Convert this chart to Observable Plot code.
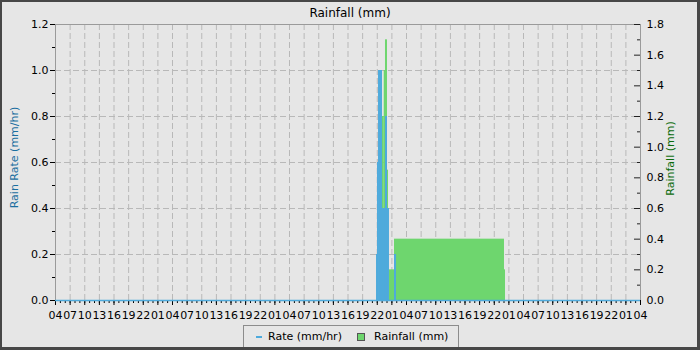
<!DOCTYPE html>
<html><head><meta charset="utf-8">
<script src="https://cdn.jsdelivr.net/npm/d3@7"></script>
<script src="https://cdn.jsdelivr.net/npm/@observablehq/plot@0.6"></script>
<style>
html,body{margin:0;padding:0;background:#e6e6e6;}
#wrap{position:relative;width:700px;height:350px;background:#e6e6e6;overflow:hidden;font-family:"DejaVu Sans",sans-serif;color:#000;}
#border{position:absolute;left:0;top:0;width:700px;height:350px;box-sizing:border-box;border:2px solid #474747;border-right-width:3px;border-bottom-width:3px;pointer-events:none;z-index:5;}
#title{position:absolute;left:0;top:5px;width:700px;text-align:center;font-size:12px;line-height:16px;}
#chart{position:absolute;left:0;top:20px;}
#legend{position:absolute;left:243px;top:325px;width:216px;height:30px;border:1px solid #8c8c8c;box-sizing:border-box;}
.lg{position:absolute;font-size:11px;line-height:14px;white-space:nowrap;}
</style>
</head><body>
<div id="wrap">
  <div id="title"></div>
  <div id="chart"></div>
  <div id="legend"></div>
  <div id="border"></div>
</div>
<script>
// time axis: hours since 04:00 of the first day (5 days shown)
const xTicks = d3.range(0, 121, 3);
const xMinor = d3.range(0, 121, 1);
const hourLabels = ["04","07","10","13","16","19","22","01"];

// left axis (rain rate) and right axis (rainfall)
const rateTicks = [0, 0.2, 0.4, 0.6, 0.8, 1.0, 1.2];
const rateMinor = [0.1, 0.3, 0.5, 0.7, 0.9, 1.1];
const rainTicks = [0, 0.2, 0.4, 0.6, 0.8, 1.0, 1.2, 1.4, 1.6, 1.8];
const rainMinor = [0.1, 0.3, 0.5, 0.7, 0.9, 1.1, 1.3, 1.5, 1.7];

// rain rate (mm/hr)
const rateStart = [65.85, 66.05, 66.26, 67.08, 67.69, 68.10, 69.54];
const rateEnd   = [66.05, 66.26, 67.08, 67.69, 68.10, 68.51, 69.95];
const rateValue = [0.2, 0.6, 1.0, 0.4, 0.8, 0.4, 0.2];

// rainfall (mm)
const rainStart = [67.08, 67.43, 67.69, 68.10, 68.51, 69.54, 92.10];
const rainEnd   = [67.43, 67.69, 68.10, 68.31, 69.54, 92.10, 92.31];
const rainValue = [1.2, 1.5, 1.7, 0.85, 0.2, 0.4, 0.2];

const titleText = "Rainfall (mm)";
const leftLabel = "Rain Rate (mm/hr)";
const rightLabel = "Rainfall (mm)";
const rateName = "Rate (mm/hr)";
const rainName = "Rainfall (mm)";

const blue = "#4eaadc";
const green = "#6ed66e";
const k = 1.2 / 1.8; // rainfall -> rate scale

const rate = rateStart.map((s, i) => ({start: s, end: rateEnd[i], value: rateValue[i]}));
const rain = rainStart.map((s, i) => ({start: s, end: rainEnd[i], value: rainValue[i] * k}));

const grid = {stroke: "#b8b8b8", strokeOpacity: 1, strokeDasharray: "6,3"};
const innerW = 700 - 55 - 60;

const chart = Plot.plot({
  width: 700, height: 300,
  marginLeft: 55, marginRight: 60, marginTop: 4, marginBottom: 20,
  style: {background: "transparent", fontFamily: "DejaVu Sans", fontSize: "11px", color: "#000", overflow: "visible"},
  x: {domain: [0, 120], axis: null},
  y: {domain: [0, 1.2], axis: null},
  marks: [
    Plot.gridX(xTicks.slice(1, -1), grid),
    Plot.gridY(rateTicks.slice(1, -1), grid),
    Plot.rect(rain, {x1: "start", x2: "end", y1: 0, y2: "value", fill: green}),
    Plot.rect(rate, {x1: "start", x2: "end", y1: 0, y2: "value", fill: blue}),
    Plot.frame({stroke: "#9a9a9a"}),
    Plot.axisX(xTicks, {tickSize: 5, tickPadding: 6, tickFormat: h => hourLabels[Math.round(h / 3) % 8], label: null, fontSize: 11}),
    Plot.axisX(xMinor, {tickSize: 3, tickFormat: () => "", label: null}),
    Plot.axisY(rateTicks, {tickSize: 5, tickPadding: 2, tickFormat: d => d.toFixed(1), label: null, fontSize: 11}),
    Plot.axisY(rateMinor, {tickSize: 3, tickFormat: () => "", label: null}),
    Plot.axisY(rainTicks.map(t => t * k), {anchor: "right", tickSize: 0, tickPadding: 6, tickFormat: d => (d / k).toFixed(1), label: null, fontSize: 11}),
    Plot.tickY(rainTicks.map(t => t * k), {y: d => d, insetLeft: innerW - 6, stroke: "#222"}),
    Plot.tickY(rainMinor.map(t => t * k), {y: d => d, insetLeft: innerW - 3, stroke: "#222"}),
    Plot.ruleY([0], {stroke: blue, strokeWidth: 1.5}),
    Plot.text([leftLabel], {text: d => d, frameAnchor: "left", textAnchor: "middle", dx: -41, dy: -5, rotate: -90, fill: "#1a6ea0", fontSize: 11}),
    Plot.text([rightLabel], {text: d => d, frameAnchor: "right", textAnchor: "middle", dx: 30, dy: -4, rotate: -90, fill: "#0b6b0b", fontSize: 11})
  ]
});
document.getElementById("chart").appendChild(chart);
document.getElementById("title").textContent = titleText;

const wrap = document.getElementById("wrap");
function add(html, style) {
  const el = document.createElement("div");
  el.className = "lg";
  el.innerHTML = html;
  Object.assign(el.style, style);
  wrap.appendChild(el);
}
add("", {left: "256px", top: "336px", width: "6px", height: "0", borderTop: "2px solid " + blue});
add(rateName, {left: "268px", top: "330px"});
add("", {left: "357px", top: "333px", width: "6px", height: "6px", background: green, border: "1px solid #555"});
add(rainName, {left: "374px", top: "330px"});
</script>
</body></html>
